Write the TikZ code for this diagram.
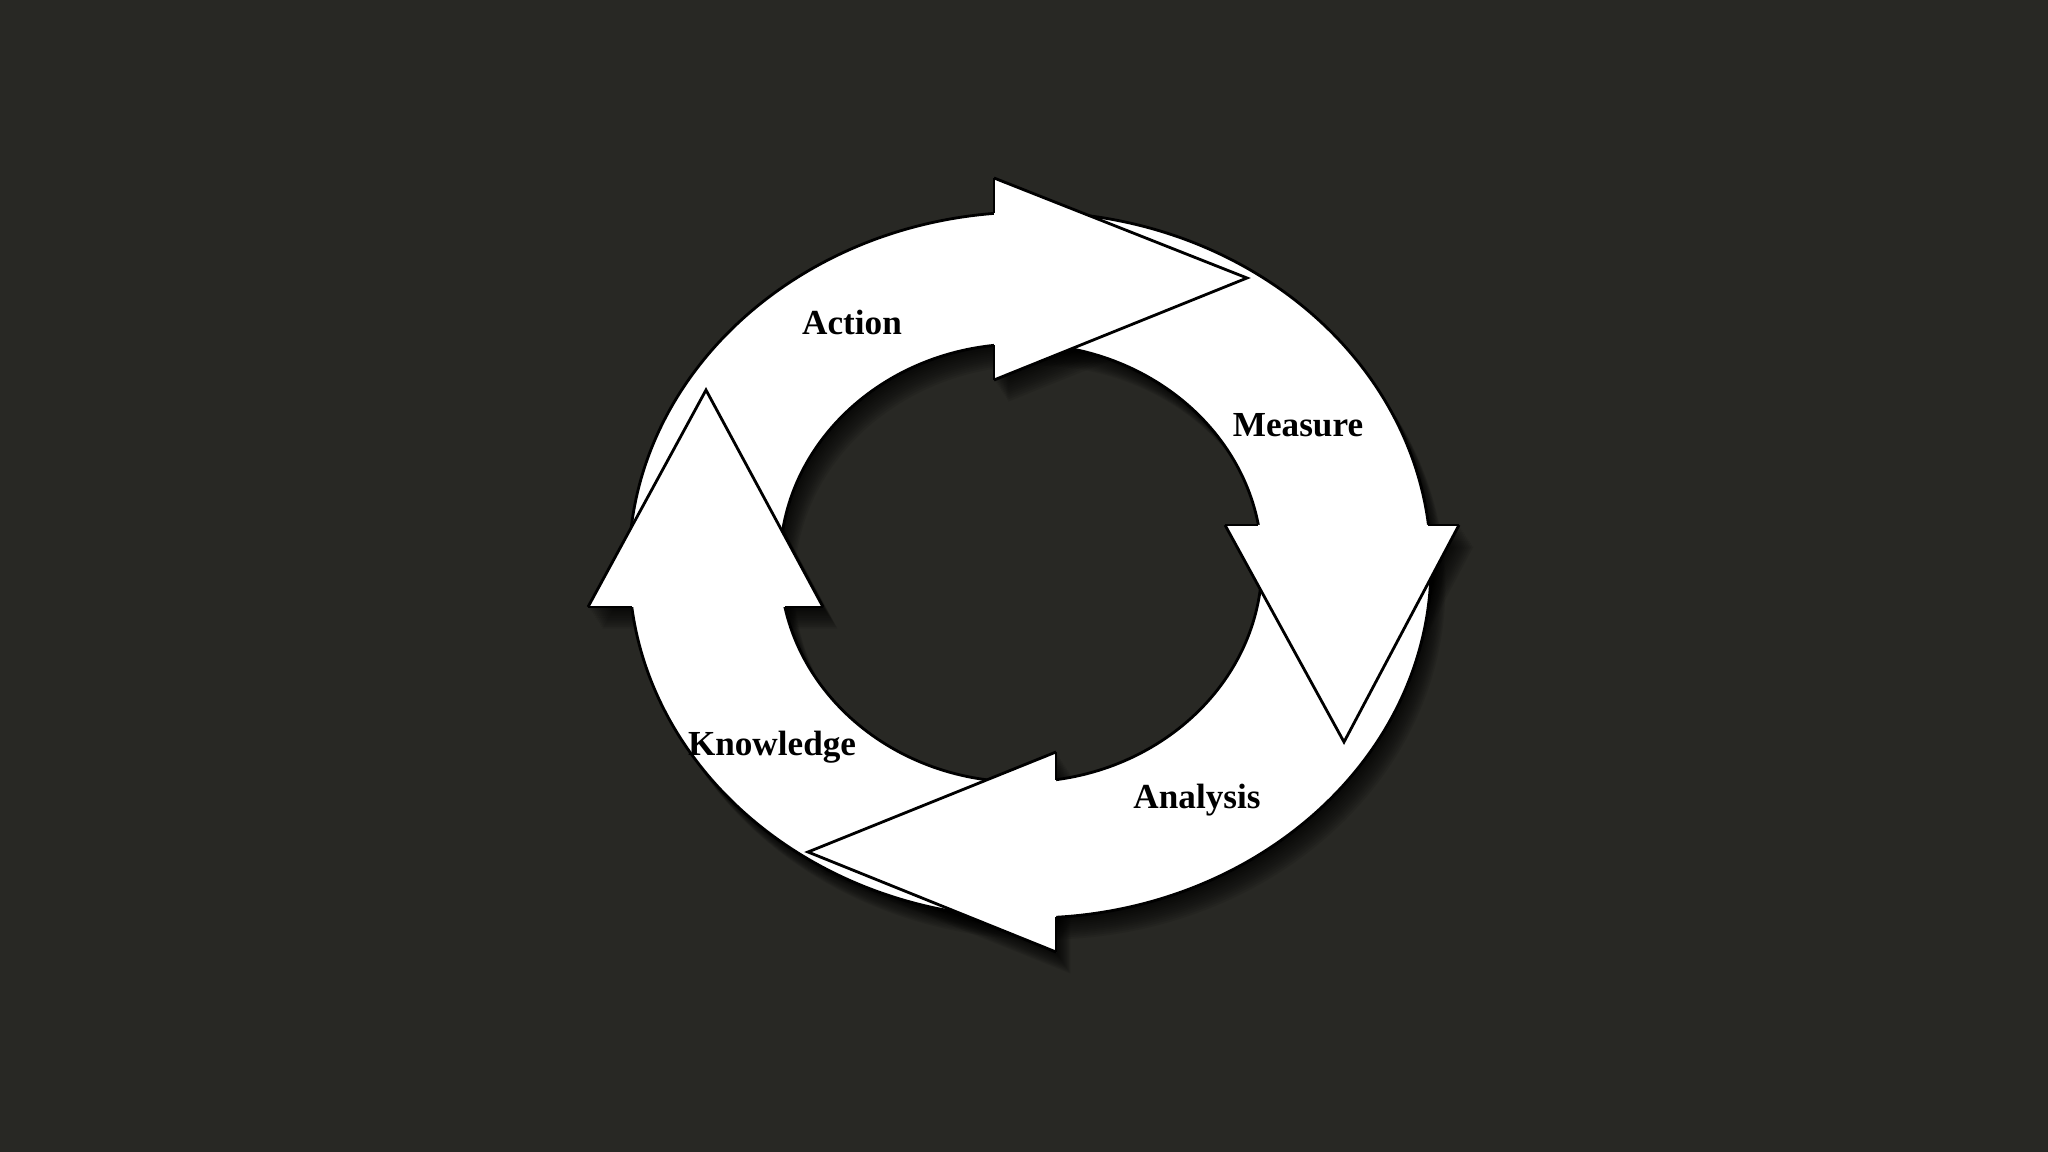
\documentclass[tikz,border=0pt]{standalone}
\usepackage{fontspec}
\setmainfont{Liberation Serif}
\definecolor{slate}{RGB}{40,40,36}

% the white ring: outer and inner ellipse
\newcommand{\ringpath}{(1030,565) ellipse [x radius=401, y radius=353] (1021,563) ellipse [x radius=241, y radius=219]}

\begin{document}
\begin{tikzpicture}[
  x=0.01cm, y=-0.01cm,
  band/.style={fill=white, draw=black, line width=0.8pt, even odd rule},
  rim/.style={draw=black, line width=0.8pt, line join=miter},
  shade/.style={fill=black, fill opacity=0.085},
  every node/.style={font=\fontsize{10}{12}\selectfont\bfseries, text=black}
]
\useasboundingbox (0,0) rectangle (2048,1152);
\fill[slate] (0,0) rectangle (2048,1152);

% Soft drop shadow
\foreach \s in {2,4,...,24} {
  \begin{scope}[shift={(\s*0.6,\s*0.9)}]
    \fill[shade, even odd rule] \ringpath;
    \foreach \ax/\ay/\tx/\ty/\bx/\by in {994/178/1247/278/994/380, 1225/525/1344/742/1459/525,
        1056/752/808/852/1056/952, 588/607/706/390/823/607}
      \fill[shade] (\ax,\ay) -- (\tx,\ty) -- (\bx,\by) -- cycle;
  \end{scope}
}

% Ring
\path[band] \ringpath;

% Arrow heads
\foreach \ax/\ay/\tx/\ty/\bx/\by in {994/178/1247/278/994/380, 1225/525/1344/742/1459/525,
    1056/752/808/852/1056/952, 588/607/706/390/823/607} {
  \fill[white] (\ax,\ay) -- (\tx,\ty) -- (\bx,\by) -- cycle;
  \draw[rim] (\ax,\ay) -- (\tx,\ty) -- (\bx,\by);
}

% Base stubs outside the ring
\draw[rim] (994,178) -- (994,213.4);
\draw[rim] (994,345.4) -- (994,380);
\draw[rim] (1225,525) -- (1258,525);
\draw[rim] (1428,525) -- (1459,525);
\draw[rim] (1056,752) -- (1056,780);
\draw[rim] (1056,917) -- (1056,952);
\draw[rim] (588,607) -- (632,607);
\draw[rim] (785,607) -- (823,607);

% Labels
\node[anchor=base] (action) at (852,335) {Action};
\node[anchor=base] (measure) at (1298,437) {Measure};
\node[anchor=base] (analysis) at (1197,808) {Analysis};
\node[anchor=base] (knowledge) at (772,755) {Knowledge};

\end{tikzpicture}
\end{document}
